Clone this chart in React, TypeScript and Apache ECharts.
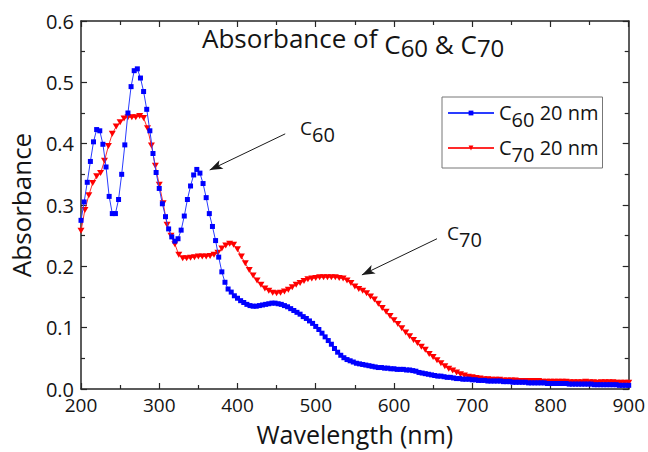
import React, { useEffect, useRef } from "react";
import * as echarts from "echarts";

// ---- data ----
const C60_NAME = "C60 20 nm";
const C70_NAME = "C70 20 nm";

const C60_START_NM = 200;
const C60_STEP_NM = 4;
const C60_ABS = [
  0.275, 0.305, 0.337, 0.371, 0.403, 0.423, 0.421, 0.399, 0.362, 0.314,
  0.286, 0.286, 0.309, 0.350, 0.398, 0.450, 0.493, 0.519, 0.522, 0.507,
  0.485, 0.456, 0.421, 0.384, 0.353, 0.327, 0.302, 0.281, 0.261, 0.248,
  0.241, 0.245, 0.259, 0.282, 0.309, 0.331, 0.349, 0.358, 0.352, 0.335,
  0.312, 0.286, 0.265, 0.242, 0.215, 0.191, 0.174, 0.163, 0.158, 0.152,
  0.148, 0.144, 0.141, 0.138, 0.136, 0.135, 0.135, 0.136, 0.137, 0.138,
  0.139, 0.140, 0.140, 0.139, 0.138, 0.136, 0.134, 0.131, 0.128, 0.125,
  0.122, 0.118, 0.115, 0.111, 0.107, 0.102, 0.097, 0.091, 0.085, 0.079,
  0.073, 0.066, 0.060, 0.055, 0.051, 0.048, 0.046, 0.044, 0.042, 0.041,
  0.040, 0.039, 0.038, 0.037, 0.036, 0.035, 0.035, 0.034, 0.034, 0.033,
  0.033, 0.032, 0.032, 0.032, 0.031, 0.031, 0.030, 0.029, 0.027, 0.026,
  0.025, 0.024, 0.023, 0.022, 0.021, 0.021, 0.020, 0.019, 0.019, 0.018,
  0.017, 0.017, 0.016, 0.016, 0.016, 0.015, 0.015, 0.014, 0.014, 0.014,
  0.013, 0.013, 0.013, 0.013, 0.013, 0.012, 0.012, 0.012, 0.011, 0.011,
  0.011, 0.011, 0.011, 0.010, 0.010, 0.010, 0.010, 0.010, 0.010, 0.009,
  0.009, 0.009, 0.009, 0.009, 0.009, 0.009, 0.008, 0.008, 0.008, 0.008,
  0.008, 0.008, 0.008, 0.008, 0.007, 0.007, 0.007, 0.007, 0.007, 0.007,
  0.007, 0.007, 0.006, 0.006, 0.006, 0.006,
];

const C70_START_NM = 200;
const C70_STEP_NM = 5;
const C70_ABS = [
  0.258, 0.292, 0.316, 0.336, 0.347, 0.352, 0.372, 0.396, 0.416, 0.428,
  0.435, 0.441, 0.443, 0.443, 0.443, 0.445, 0.442, 0.425, 0.397, 0.364,
  0.333, 0.303, 0.268, 0.250, 0.236, 0.219, 0.213, 0.213, 0.214, 0.215,
  0.216, 0.216, 0.216, 0.217, 0.219, 0.222, 0.229, 0.234, 0.237, 0.235,
  0.228, 0.216, 0.205, 0.194, 0.185, 0.177, 0.170, 0.164, 0.160, 0.157,
  0.156, 0.157, 0.159, 0.162, 0.166, 0.170, 0.173, 0.176, 0.179, 0.180,
  0.181, 0.182, 0.182, 0.182, 0.182, 0.182, 0.181, 0.180, 0.177, 0.173,
  0.167, 0.163, 0.160, 0.156, 0.151, 0.146, 0.139, 0.132, 0.126, 0.119,
  0.112, 0.106, 0.099, 0.092, 0.086, 0.080, 0.075, 0.069, 0.064, 0.057,
  0.052, 0.047, 0.042, 0.037, 0.033, 0.030, 0.027, 0.024, 0.022, 0.020,
  0.019, 0.018, 0.017, 0.016, 0.016, 0.015, 0.015, 0.015, 0.014, 0.014,
  0.014, 0.014, 0.013, 0.013, 0.013, 0.013, 0.013, 0.013, 0.012, 0.012,
  0.012, 0.012, 0.012, 0.012, 0.012, 0.011, 0.011, 0.011, 0.011, 0.012,
  0.011, 0.011, 0.010, 0.011, 0.011, 0.011, 0.011, 0.010, 0.010, 0.010,
  0.010,
];

// axis ranges
const X_MIN = 200;
const X_MAX = 900;
const X_INTERVAL = 100;
const Y_MIN = 0;
const Y_MAX = 0.6;
const Y_INTERVAL = 0.1;

// annotation arrows in data units: [tail, head]
const C60_ARROW = [[461, 0.416], [364.5, 0.357]];
const C70_ARROW = [[655, 0.245], [559, 0.186]];

// ---- styles ----
const FONT = "'Open Sans', 'DejaVu Sans', sans-serif";
const TXT = "#141414";
const AXIS = "#262626";
const BLUE = "#0000ff";
const BLUE_LINE = "#2a3cff";
const RED = "#ff0000";
const RED_LINE = "#ff2a2a";

function toPairs(start: number, step: number, vals: number[]) {
  return vals.map((v, i) => [start + step * i, v]);
}

export default function App() {
  const ref = useRef<HTMLDivElement>(null);

  useEffect(() => {
    if (!ref.current) return;
    const chart = echarts.init(ref.current, undefined, { renderer: "svg" });

    const axisLineStyle = { color: AXIS, width: 1.5 };
    const tickStyle = { color: AXIS, width: 1.2 };
    const xBase = {
      type: "value",
      min: X_MIN,
      max: X_MAX,
      interval: X_INTERVAL,
      splitLine: { show: false },
      axisLine: { show: true, onZero: false, lineStyle: axisLineStyle },
      axisTick: { show: true, inside: true, length: 6, lineStyle: tickStyle },
      minorTick: { show: true, splitNumber: 2, length: 4, lineStyle: tickStyle },
      minorSplitLine: { show: false },
    };
    const yBase = {
      type: "value",
      min: Y_MIN,
      max: Y_MAX,
      interval: Y_INTERVAL,
      splitLine: { show: false },
      axisLine: { show: true, onZero: false, lineStyle: axisLineStyle },
      axisTick: { show: true, inside: true, length: 6, lineStyle: tickStyle },
      minorTick: { show: true, splitNumber: 2, length: 4, lineStyle: tickStyle },
      minorSplitLine: { show: false },
    };

    const legendRich = {
      n: { fontFamily: FONT, fontSize: 20, color: TXT, lineHeight: 20, padding: [5, 0, 7, 0] },
      s: { fontFamily: FONT, fontSize: 20, color: TXT, lineHeight: 20, padding: [12, 0, 0, 0] },
    };

    const annRich = {
      n: { fontFamily: FONT, fontSize: 19, fill: TXT, lineHeight: 20, padding: [0, 0, 7, 0] },
      s: { fontFamily: FONT, fontSize: 20, fill: TXT, lineHeight: 20, padding: [7, 0, 0, 0] },
    };

    const arrowMark = (arrow: number[][]) => ({
      silent: true,
      animation: false,
      symbol: ["none", "arrow"],
      symbolSize: [7, 13],
      label: { show: false },
      emphasis: { disabled: true },
      lineStyle: { color: "#1a1a1a", width: 1, type: "solid" },
      data: [[{ coord: arrow[0] }, { coord: arrow[1] }]],
    });

    const option: any = {
      animation: false,
      backgroundColor: "#ffffff",
      title: {
        text: "{a|Absorbance of }{c|C}{s|60}{c| & C}{s|70}",
        left: 202,
        top: 30,
        padding: 0,
        textStyle: {
          fontFamily: FONT,
          fontSize: 26,
          fontWeight: "normal",
          color: TXT,
          rich: {
            a: { fontFamily: FONT, fontSize: 26, color: TXT, lineHeight: 26, padding: [0, 0, 10, 0] },
            c: { fontFamily: FONT, fontSize: 26, color: TXT, lineHeight: 26, padding: [6, 0, 4, 0] },
            s: { fontFamily: FONT, fontSize: 24, color: TXT, lineHeight: 26, padding: [9, 0, 1, 0] },
          },
        },
      },
      legend: {
        data: [C60_NAME, C70_NAME],
        orient: "vertical",
        left: 442,
        top: 97,
        padding: [0, 4, 4, 5],
        itemGap: 3,
        itemWidth: 46,
        itemHeight: 6,
        borderColor: "#777777",
        borderWidth: 1,
        borderRadius: 0,
        backgroundColor: "#ffffff",
        selectedMode: false,
        formatter: (name: string) => `{n|C}{s|${name.slice(1, 3)}}{n|${name.slice(3)}}`,
        textStyle: { fontFamily: FONT, fontSize: 20, color: TXT, rich: legendRich },
      },
      grid: { left: 80, top: 21, width: 549, height: 373, containLabel: false },
      xAxis: [
        {
          ...xBase,
          position: "bottom",
          axisLabel: {
            show: true,
            fontFamily: FONT,
            fontSize: 19,
            lineHeight: 16,
            color: TXT,
            margin: 8,
            showMinLabel: true,
            showMaxLabel: true,
          },
          name: "Wavelength (nm)",
          nameLocation: "middle",
          nameGap: 32,
          nameTextStyle: { fontFamily: FONT, fontSize: 25, lineHeight: 26, color: TXT },
        },
        { ...xBase, position: "top", axisLabel: { show: false } },
      ],
      yAxis: [
        {
          ...yBase,
          position: "left",
          axisLabel: {
            show: true,
            fontFamily: FONT,
            fontSize: 20,
            lineHeight: 14,
            color: TXT,
            margin: 7,
            showMinLabel: true,
            showMaxLabel: true,
            formatter: (v: number) => v.toFixed(1),
          },
          name: "Absorbance",
          nameLocation: "middle",
          nameGap: 47,
          nameTextStyle: { fontFamily: FONT, fontSize: 26, color: TXT },
        },
        { ...yBase, position: "right", axisLabel: { show: false } },
      ],
      graphic: [
        {
          type: "text",
          x: 300,
          y: 121,
          silent: true,
          style: {
            text: "{n|C}{s|60}",
            fontFamily: FONT,
            fontSize: 19,
            fill: TXT,
            align: "left",
            verticalAlign: "top",
            rich: annRich,
          },
        },
        {
          type: "text",
          x: 447,
          y: 226,
          silent: true,
          style: {
            text: "{n|C}{s|70}",
            fontFamily: FONT,
            fontSize: 19,
            fill: TXT,
            align: "left",
            verticalAlign: "top",
            rich: annRich,
          },
        },
      ],
      series: [
        {
          name: C70_NAME,
          type: "line",
          data: toPairs(C70_START_NM, C70_STEP_NM, C70_ABS),
          symbol: "triangle",
          symbolRotate: 180,
          symbolSize: [7, 6],
          showSymbol: true,
          showAllSymbol: true,
          lineStyle: { color: RED_LINE, width: 1 },
          itemStyle: { color: RED },
          emphasis: { disabled: true },
          z: 2,
          markLine: arrowMark(C70_ARROW),
        },
        {
          name: C60_NAME,
          type: "line",
          data: toPairs(C60_START_NM, C60_STEP_NM, C60_ABS),
          symbol: "rect",
          symbolSize: 5,
          showSymbol: true,
          showAllSymbol: true,
          lineStyle: { color: BLUE_LINE, width: 1 },
          itemStyle: { color: BLUE },
          emphasis: { disabled: true },
          z: 3,
          markLine: arrowMark(C60_ARROW),
        },
      ],
    };

    chart.setOption(option);
    return () => chart.dispose();
  }, []);

  return (
    <div
      ref={ref}
      style={{ position: "fixed", left: 0, top: 0, width: 648, height: 452, background: "#fff" }}
    />
  );
}
